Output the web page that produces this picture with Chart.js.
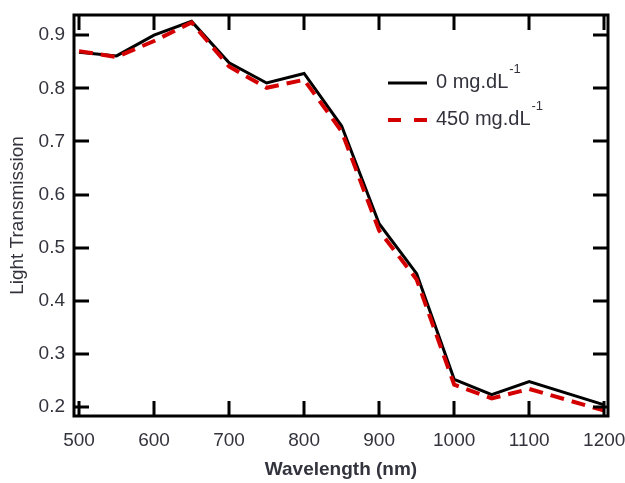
<!DOCTYPE html>
<html>
<head>
<meta charset="utf-8">
<script src="https://cdn.jsdelivr.net/npm/chart.js@4.4.1/dist/chart.umd.min.js"></script>
<style>
  body { margin: 0; background: #fff; }
  canvas { display: block; }
</style>
</head>
<body>
<canvas id="transChart" width="625" height="483"></canvas>
<script>
const wavelengths = [500, 550, 600, 650, 700, 750, 800, 850, 900, 950, 1000, 1050, 1100, 1200];
const trans0 = [0.868, 0.861, 0.900, 0.926, 0.848, 0.810, 0.828, 0.729, 0.545, 0.451, 0.252, 0.223, 0.248, 0.204];
const trans450 = [0.870, 0.859, 0.889, 0.924, 0.841, 0.801, 0.816, 0.719, 0.532, 0.440, 0.242, 0.216, 0.234, 0.193];
const seriesNames = ['0 mg.dL', '450 mg.dL'];
const unitSup = '-1';
const xTicks = [500, 600, 700, 800, 900, 1000, 1100, 1200];
const yTicks = [0.2, 0.3, 0.4, 0.5, 0.6, 0.7, 0.8, 0.9];

const FONT = "'Liberation Sans', Arial, sans-serif";
const TEXT = '#33333d';

function pts(ys) {
  return wavelengths.map((w, i) => ({ x: w, y: ys[i] }));
}

// frame with inward ticks on all four sides
const framePlugin = {
  id: 'frame',
  afterDatasetsDraw(chart) {
    const { ctx, chartArea: a, scales } = chart;
    const len = 15;
    ctx.save();
    ctx.strokeStyle = '#000';
    ctx.lineWidth = 3;
    ctx.lineCap = 'butt';
    ctx.strokeRect(a.left, a.top, a.right - a.left, a.bottom - a.top);
    ctx.beginPath();
    xTicks.forEach(v => {
      const px = Math.round(scales.x.getPixelForValue(v));
      ctx.moveTo(px, a.bottom); ctx.lineTo(px, a.bottom - len);
      ctx.moveTo(px, a.top); ctx.lineTo(px, a.top + len);
    });
    yTicks.forEach(v => {
      const py = Math.round(scales.y.getPixelForValue(v));
      ctx.moveTo(a.left, py); ctx.lineTo(a.left + len, py);
      ctx.moveTo(a.right, py); ctx.lineTo(a.right - len, py);
    });
    ctx.stroke();
    ctx.restore();
  }
};

// legend with superscript unit, rows in series order
const legendPlugin = {
  id: 'supLegend',
  afterDraw(chart) {
    const { ctx } = chart;
    const x0 = 388, x1 = 427, tx = 436;
    const rows = [83, 120];
    ctx.save();
    seriesNames.forEach((name, i) => {
      const ds = chart.data.datasets.find(d => d.label === name);
      const y = rows[i];
      ctx.strokeStyle = ds.borderColor;
      ctx.lineWidth = ds.borderWidth;
      ctx.setLineDash(ds.borderDash ? [13, 13] : []);
      ctx.beginPath();
      ctx.moveTo(x0, y); ctx.lineTo(x1, y);
      ctx.stroke();
      ctx.setLineDash([]);
      ctx.fillStyle = TEXT;
      ctx.textBaseline = 'middle';
      ctx.font = '20px ' + FONT;
      ctx.fillText(name, tx, y - 1);
      const w = ctx.measureText(name).width;
      ctx.font = '13px ' + FONT;
      ctx.fillText(unitSup, tx + w + 1, y - 14);
    });
    ctx.restore();
  }
};

new Chart(document.getElementById('transChart'), {
  type: 'line',
  data: {
    datasets: [
      {
        label: seriesNames[1],
        data: pts(trans450),
        borderColor: '#d40000',
        borderWidth: 4,
        borderDash: [14, 8],
        pointRadius: 0,
        tension: 0,
        order: 0
      },
      {
        label: seriesNames[0],
        data: pts(trans0),
        borderColor: '#000000',
        borderWidth: 3,
        pointRadius: 0,
        tension: 0,
        order: 1
      }
    ]
  },
  options: {
    responsive: false,
    animation: false,
    layout: { padding: { left: 0, right: 17, top: 15, bottom: 0 } },
    plugins: { legend: { display: false }, tooltip: { enabled: false } },
    scales: {
      x: {
        type: 'linear',
        min: 493.3,
        max: 1205,
        afterBuildTicks: s => { s.ticks = xTicks.map(v => ({ value: v })); },
        afterFit: s => { s.height = 67; s.paddingLeft = 0; s.paddingRight = 0; },
        grid: { display: false, drawTicks: false },
        border: { display: false },
        ticks: {
          padding: 13,
          color: TEXT,
          font: { family: FONT, size: 19 },
          maxRotation: 0,
          callback: v => String(v)
        },
        title: {
          display: true,
          text: 'Wavelength (nm)',
          color: TEXT,
          font: { family: FONT, size: 19, weight: 'bold' },
          padding: { top: 0, bottom: 2 }
        }
      },
      y: {
        min: 0.183,
        max: 0.938,
        afterBuildTicks: s => { s.ticks = yTicks.map(v => ({ value: v })); },
        afterFit: s => { s.width = 74; s.paddingTop = 0; s.paddingBottom = 0; },
        grid: { display: false, drawTicks: false },
        border: { display: false },
        ticks: {
          padding: 9,
          color: TEXT,
          font: { family: FONT, size: 19 },
          callback: v => v.toFixed(1)
        },
        title: {
          display: true,
          text: 'Light Transmission',
          color: TEXT,
          font: { family: FONT, size: 19 },
          padding: { top: 6, bottom: 0 }
        }
      }
    }
  },
  plugins: [framePlugin, legendPlugin]
});
</script>
</body>
</html>
